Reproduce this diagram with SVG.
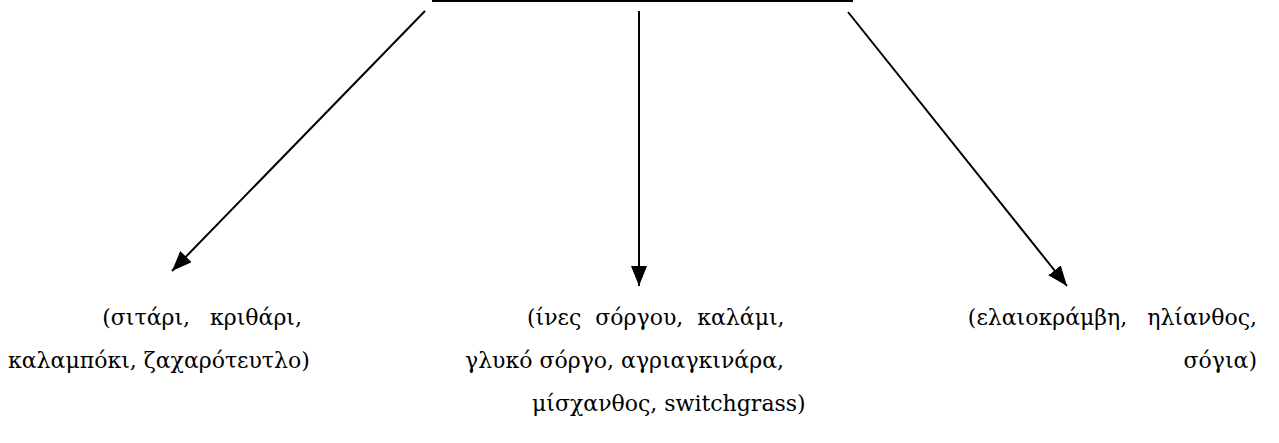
<svg xmlns="http://www.w3.org/2000/svg" width="1279" height="443" viewBox="0 0 1279 443">
<defs>
<marker id="ah" viewBox="0 0 20 16" refX="20" refY="8" markerWidth="20" markerHeight="16" markerUnits="userSpaceOnUse" orient="auto">
<path d="M0,0 L20,8 L0,16 Z" fill="#000"/>
</marker>
<style>
.c{stroke:#000;stroke-width:2;fill:none}
text{font-family:"DejaVu Serif","Liberation Serif",serif;font-size:22px;fill:#000}
.e{text-anchor:end}
.j{word-spacing:3px}
</style>
</defs>
<rect width="1279" height="443" fill="#fff"/>
<g id="topbar"><line x1="432" y1="1" x2="853" y2="1" class="c"/></g>
<g id="connectors">
<line x1="425" y1="11" x2="172" y2="271" class="c" marker-end="url(#ah)"/>
<line x1="639" y1="11" x2="639" y2="286" class="c" marker-end="url(#ah)"/>
<line x1="848" y1="12" x2="1067" y2="286" class="c" marker-end="url(#ah)"/>
</g>
<g id="node-left">
<text x="302" y="325" class="e j" xml:space="preserve">(σιτάρι,  κριθάρι,</text>
<text x="8" y="368">καλαμπόκι, ζαχαρότευτλο)</text>
</g>
<g id="node-middle">
<text x="527" y="325" xml:space="preserve">(ίνες  σόργου,  καλάμι,</text>
<text x="465" y="368">γλυκό σόργο, αγριαγκινάρα,</text>
<text x="532" y="411">μίσχανθος, switchgrass)</text>
</g>
<g id="node-right">
<text x="1257" y="325" class="e j" xml:space="preserve">(ελαιοκράμβη,  ηλίανθος,</text>
<text x="1257" y="368" class="e">σόγια)</text>
</g>
</svg>
